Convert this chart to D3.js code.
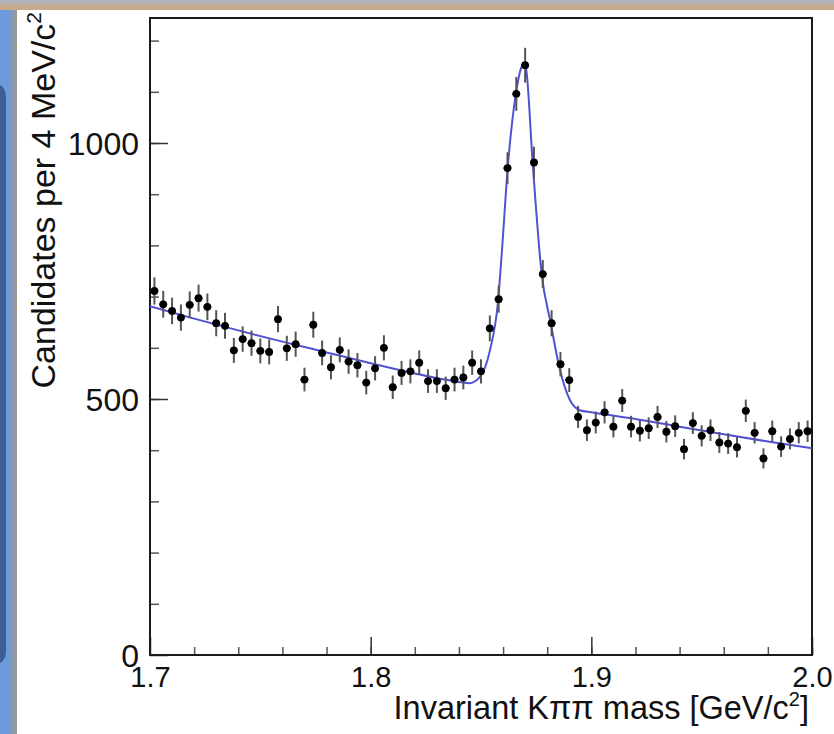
<!DOCTYPE html>
<html>
<head>
<meta charset="utf-8">
<script src="https://cdn.jsdelivr.net/npm/d3@7/dist/d3.min.js"></script>
<style>
  body { margin: 0; padding: 0; background: #6b9bdc; }
  svg { display: block; }
  text { font-family: "Liberation Sans", Arial, Helvetica, sans-serif; fill: #111; }
</style>
</head>
<body>
<svg id="chart" width="834" height="734"></svg>
<script>
// counts per 4 MeV bin, 1.700 - 2.000 GeV
const counts = [
    711, 685, 672, 659, 684, 697, 680, 648, 643, 595,
    617, 609, 594, 592, 656, 599, 607, 538, 645, 590,
    562, 596, 573, 566, 532, 560, 600, 523, 551, 554,
    571, 535, 535, 521, 538, 542, 571, 554, 638, 695,
    951, 1096, 1152, 962, 744, 648, 568, 537, 465, 439,
    454, 474, 446, 497, 446, 438, 443, 465, 436, 447,
    402, 453, 428, 439, 415, 413, 406, 477, 434, 384,
    437, 407, 422, 434, 437
];
const binWidth = 0.004;
const massMin = 1.7;

// fit curve
const fitMass = [1.700, 1.720, 1.740, 1.760, 1.780, 1.800, 1.820, 1.835, 1.845,
    1.8495, 1.8541, 1.8577, 1.8595, 1.8621, 1.8658, 1.8684, 1.8692, 1.8704,
    1.8734, 1.8775, 1.8816, 1.8856, 1.8903, 1.8948, 1.900, 1.920, 1.940,
    1.960, 1.980, 2.000];
const fitValue = [681, 657, 634, 612, 591, 570, 550, 537, 531,
    543, 596, 690, 790, 951, 1096, 1149, 1155, 1145,
    962, 744, 648, 560, 498, 478, 474, 461, 446,
    431, 417, 404];

const xTicks = [1.7, 1.8, 1.9, 2.0];
const xTickLabels = ["1.7", "1.8", "1.9", "2.0"];
const yTicks = [0, 500, 1000];
const yTickLabels = ["0", "500", "1000"];

let svg = d3.select('#chart'),
    width = +svg.attr("width"),
    height = +svg.attr("height");

let plotLeft = 150, plotRight = 812, plotTop = 18, plotBottom = 655;

// page decoration
let defs = svg.append("defs");
let topGrad = defs.append("linearGradient").attr("id", "topGrad")
    .attr("x1", 0).attr("y1", 0).attr("x2", 0).attr("y2", 1);
topGrad.append("stop").attr("offset", "0%").attr("stop-color", "#aab4c4");
topGrad.append("stop").attr("offset", "70%").attr("stop-color", "#c6aa8a");
let sideGrad = defs.append("linearGradient").attr("id", "sideGrad")
    .attr("x1", 0).attr("y1", 0).attr("x2", 1).attr("y2", 0);
sideGrad.append("stop").attr("offset", "0%").attr("stop-color", "#6b9bdc");
sideGrad.append("stop").attr("offset", "100%").attr("stop-color", "#a8987f");

svg.append("rect").attr("x", 0).attr("y", 0).attr("width", width).attr("height", height)
    .attr("fill", "#6b9bdc");
svg.append("rect").attr("x", 8).attr("y", 0).attr("width", 10).attr("height", height)
    .attr("fill", "url(#sideGrad)");
svg.append("rect").attr("x", -14).attr("y", 84).attr("width", 20).attr("height", 580)
    .attr("rx", 12).attr("fill", "#3c5e95");
svg.append("rect").attr("x", 0).attr("y", 0).attr("width", width).attr("height", 10)
    .attr("fill", "url(#topGrad)");
svg.append("rect").attr("x", 17).attr("y", 10).attr("width", width - 17).attr("height", height - 10)
    .attr("fill", "#ffffff");

var x = d3.scaleLinear().domain([1.7, 2.0]).range([plotLeft, plotRight]);
var y = d3.scaleLinear().domain([0, (plotBottom - plotTop) / 0.512]).range([plotBottom, plotTop]);

var points = counts.map(function(c, i) {
    return { m: massMin + binWidth * (i + 0.5), n: c, err: Math.sqrt(c) };
});

// minor ticks
svg.append("g")
    .attr("transform", "translate(0," + plotBottom + ")")
    .call(d3.axisBottom(x).tickValues(d3.range(1.72, 2.0, 0.02)).tickSize(-8).tickFormat(""))
    .call(function(g) { g.select(".domain").remove(); })
    .selectAll("line").attr("stroke", "#555").attr("stroke-width", 1.5);

svg.append("g")
    .attr("transform", "translate(" + plotLeft + ",0)")
    .call(d3.axisLeft(y).tickValues(d3.range(100, 1250, 100)).tickSize(-9).tickFormat(""))
    .call(function(g) { g.select(".domain").remove(); })
    .selectAll("line").attr("stroke", "#555").attr("stroke-width", 1.5);

// major ticks + labels
let xAxis = svg.append("g")
    .attr("transform", "translate(0," + plotBottom + ")")
    .call(d3.axisBottom(x).tickValues(xTicks).tickSize(-18)
        .tickFormat(function(d, i) { return xTickLabels[i]; }));
xAxis.select(".domain").remove();
xAxis.selectAll("line").attr("stroke", "#333").attr("stroke-width", 1.5);
xAxis.selectAll("text").attr("font-size", 29).attr("fill", "#111")
    .attr("dy", null).attr("y", 32)
    .style("font-family", '"Liberation Sans", Arial, sans-serif');

let yAxis = svg.append("g")
    .attr("transform", "translate(" + plotLeft + ",0)")
    .call(d3.axisLeft(y).tickValues(yTicks).tickSize(-18)
        .tickFormat(function(d, i) { return yTickLabels[i]; }));
yAxis.select(".domain").remove();
yAxis.selectAll("line").attr("stroke", "#333").attr("stroke-width", 1.5);
yAxis.selectAll("text").attr("font-size", 32).attr("fill", "#111")
    .attr("x", -11).attr("dy", "0.36em")
    .style("font-family", '"Liberation Sans", Arial, sans-serif');

// frame
svg.append("rect")
    .attr("x", plotLeft).attr("y", plotTop)
    .attr("width", plotRight - plotLeft).attr("height", plotBottom - plotTop)
    .attr("fill", "none").attr("stroke", "#1a1a1a").attr("stroke-width", 2);

// fit
var line = d3.line()
    .x(function(d) { return x(d[0]); })
    .y(function(d) { return y(d[1]); })
    .curve(d3.curveMonotoneX);

svg.append("path")
    .datum(fitMass.map(function(m, i) { return [m, fitValue[i]]; }))
    .attr("d", line)
    .attr("fill", "none")
    .attr("stroke", "#5151d6")
    .attr("stroke-width", 2);

// data points
var pts = svg.append("g").selectAll(".pt")
    .data(points)
    .enter().append("g").classed("pt", true);

pts.append("line")
    .attr("x1", function(d) { return x(d.m); })
    .attr("x2", function(d) { return x(d.m); })
    .attr("y1", function(d) { return y(d.n - d.err); })
    .attr("y2", function(d) { return y(d.n + d.err); })
    .attr("stroke", "#555")
    .attr("stroke-width", 2);

pts.append("line")
    .attr("x1", function(d) { return x(d.m - binWidth / 2) + 0.5; })
    .attr("x2", function(d) { return x(d.m + binWidth / 2) - 0.5; })
    .attr("y1", function(d) { return y(d.n); })
    .attr("y2", function(d) { return y(d.n); })
    .attr("stroke", "#000")
    .attr("stroke-width", 1.5);

pts.append("circle")
    .attr("cx", function(d) { return x(d.m); })
    .attr("cy", function(d) { return y(d.n); })
    .attr("r", 3.9)
    .attr('fill', '#000');

// axis titles
var xt = svg.append("text")
    .attr("x", plotRight - 3).attr("y", 719)
    .attr("text-anchor", "end")
    .attr("font-size", 32.5);
xt.append("tspan").text("Invariant K\u03c0\u03c0 mass [GeV/c");
xt.append("tspan").attr("font-size", 20).attr("dy", -13).text("2");
xt.append("tspan").attr("dy", 13).text("]");

var yt = svg.append("text")
    .attr("transform", "translate(55,12) rotate(-90)")
    .attr("text-anchor", "end")
    .attr("font-size", 34);
yt.append("tspan").text("Candidates per 4 MeV/c");
yt.append("tspan").attr("font-size", 21).attr("dy", -14).text("2");
</script>
</body>
</html>
